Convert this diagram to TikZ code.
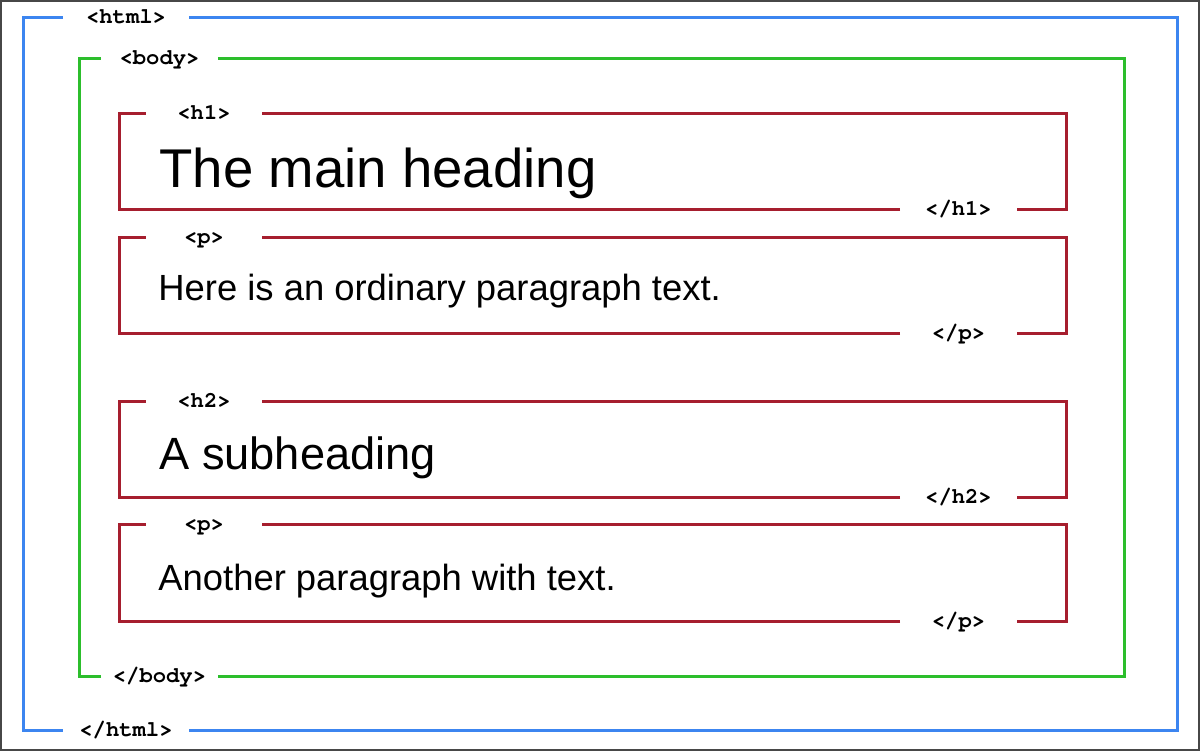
\documentclass[tikz,border=0pt]{standalone}
\usepackage{fontspec}
\setmainfont{Liberation Sans}
\newfontfamily\tagfont{TeX Gyre Cursor}
\definecolor{htmlblue}{RGB}{60,133,240}
\definecolor{bodygreen}{RGB}{44,190,44}
\definecolor{elemred}{RGB}{166,30,46}
\tikzset{
  tag/.style={font=\tagfont\bfseries\fontsize{11.1}{13}\selectfont, inner sep=0pt,
    text height=6.3pt, text depth=0pt, minimum width=58pt},
  txt/.style={anchor=base west, inner sep=0pt},
  frame/.style={line width=1.5pt}
}
\begin{document}
\begin{tikzpicture}[x=0.5pt,y=-0.5pt]
        \useasboundingbox (0,0) rectangle (1200,751);
        \draw[line width=1pt, black!72] (1,1) rectangle (1199,750);
        %% html
        \node[tag, minimum width=63pt] (htmlO) at (126,17) {<html>};
        \node[tag, minimum width=63pt] (htmlC) at (126,730) {</html>};
        \draw[frame, htmlblue] (htmlO.east) -- (1177,17) -- (1177,730) -- (htmlC.east);
        \draw[frame, htmlblue] (htmlC.west) -- (23,730) -- (23,17) -- (htmlO.west);
        %% body
        \node[tag] (bodyO) at (159.5,58) {<body>};
        \node[tag] (bodyC) at (159.5,676) {</body>};
        \draw[frame, bodygreen] (bodyO.east) -- (1124,58) -- (1124,676) -- (bodyC.east);
        \draw[frame, bodygreen] (bodyC.west) -- (79,676) -- (79,58) -- (bodyO.west);
        %% elements
        \foreach \top/\bot/\name/\id in {113/209/h1/a, 237/333/p/b, 401/497/h2/c, 524/621/p/d} {
            \node[tag] (open\id) at (204,\top) {<\name>};
            \node[tag] (close\id) at (958.5,\bot) {</\name>};
            \draw[frame, elemred] (open\id.east) -- (1066,\top) -- (1066,\bot) -- (close\id.east);
            \draw[frame, elemred] (close\id.west) -- (119,\bot) -- (119,\top) -- (open\id.west);
        }
        %% contents
        \node[txt, font=\fontsize{27.3}{30}\selectfont] (heading) at (159,187) {The main heading};
        \node[txt, font=\fontsize{18.2}{21}\selectfont] (para) at (158,300) {Here is an ordinary paragraph text.};
        \node[txt, font=\fontsize{22.6}{26}\selectfont] (subheading) at (159,469) {A subheading};
        \node[txt, font=\fontsize{18.2}{21}\selectfont] (parb) at (158,590) {Another paragraph with text.};
    \end{tikzpicture}
\end{document}
